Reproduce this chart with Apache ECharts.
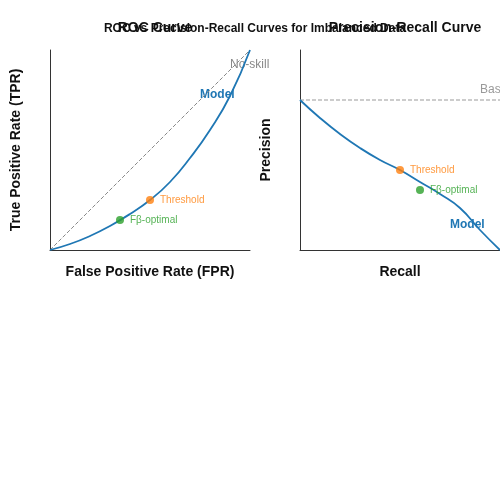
<!DOCTYPE html><html><head><meta charset="utf-8">
<script src="https://cdn.jsdelivr.net/npm/echarts@6/dist/echarts.min.js"></script>
<style>html,body{margin:0;background:#fff}#c{width:500px;height:500px}</style></head><body><div id="c"></div>
<script>
const xs = [0,0.1,0.2,0.3,0.4,0.5,0.6,0.7,0.8,0.9,1];
const rocY = [0,0.03,0.07,0.12,0.18,0.25,0.34,0.46,0.6,0.77,1.0];
const prY = [0.75,0.66,0.58,0.51,0.45,0.40,0.34,0.28,0.21,0.1,0.0];
const rocThreshold = [0.5,0.25], rocFbeta = [0.35,0.15];
const prThreshold = [0.5,0.4], prFbeta = [0.6,0.3];
const baseline = 0.75;
const F = 'Liberation Sans, Arial, sans-serif';
const ax = (name, gap, rot) => ({type:'value',min:0,max:1,name,nameLocation:'middle',nameGap:gap,nameRotate:rot,
  nameTextStyle:{fontFamily:F,fontSize:14,fontWeight:'bold',color:'#111'},
  axisLine:{show:true,lineStyle:{color:'#333'}},axisTick:{show:false},axisLabel:{show:false},splitLine:{show:false}});
const pt = (xi,yi,p,color,label)=>({type:'scatter',xAxisIndex:xi,yAxisIndex:yi,data:[p],symbolSize:8,itemStyle:{color},
  label:{show:true,position:'right',formatter:label,color,fontSize:10,fontFamily:F,distance:6},z:5});
const chart = echarts.init(document.getElementById('c'));
chart.setOption({
  animation:false,
  title:[
    {text:'ROC vs Precision-Recall Curves for Imbalanced Data',left:250,textAlign:'center',top:18,textStyle:{fontFamily:F,fontSize:12,fontWeight:'bold',color:'#111'}},
    {text:'ROC Curve',left:150,textAlign:'center',top:16,textStyle:{fontFamily:F,fontSize:14,fontWeight:'bold',color:'#111'}},
    {text:'Precision-Recall Curve',left:400,textAlign:'center',top:16,textStyle:{fontFamily:F,fontSize:14,fontWeight:'bold',color:'#111'}}
  ],
  grid:[{left:50,top:50,width:200,height:200},{left:300,top:50,width:200,height:200}],
  xAxis:[Object.assign(ax('False Positive Rate (FPR)',15,0),{gridIndex:0}),Object.assign(ax('Recall',15,0),{gridIndex:1})],
  yAxis:[Object.assign(ax('True Positive Rate (TPR)',27,90),{gridIndex:0}),Object.assign(ax('Precision',27,90),{gridIndex:1})],
  series:[
    {type:'line',xAxisIndex:0,yAxisIndex:0,data:[[0,0],[1,1]],symbol:'none',lineStyle:{color:'#888',type:'dashed',width:1},
      endLabel:{show:false}},
    {type:'line',xAxisIndex:0,yAxisIndex:0,data:xs.map((x,i)=>[x,rocY[i]]),smooth:true,symbol:'none',lineStyle:{color:'#1f77b4',width:1.8}},
    {type:'line',xAxisIndex:1,yAxisIndex:1,data:[[0,baseline],[1,baseline]],symbol:'none',lineStyle:{color:'#999',type:'dashed',width:1}},
    {type:'line',xAxisIndex:1,yAxisIndex:1,data:xs.map((x,i)=>[x,prY[i]]),smooth:true,symbol:'none',lineStyle:{color:'#1f77b4',width:1.8}},
    pt(0,0,rocThreshold,'#ff7f0e','Threshold'),pt(0,0,rocFbeta,'#2ca02c','Fβ-optimal'),
    pt(1,1,prThreshold,'#ff7f0e','Threshold'),pt(1,1,prFbeta,'#2ca02c','Fβ-optimal')
  ],
  graphic:[
    {type:'text',left:230,top:59,style:{text:'No-skill',fill:'#888',font:'12px '+F}},
    {type:'text',left:200,top:89,style:{text:'Model',fill:'#1f77b4',font:'bold 12px '+F}},
    {type:'text',left:480,top:84,style:{text:'Baseline',fill:'#999',font:'12px '+F}},
    {type:'text',left:450,top:219,style:{text:'Model',fill:'#1f77b4',font:'bold 12px '+F}}
  ]
});
</script></body></html>
